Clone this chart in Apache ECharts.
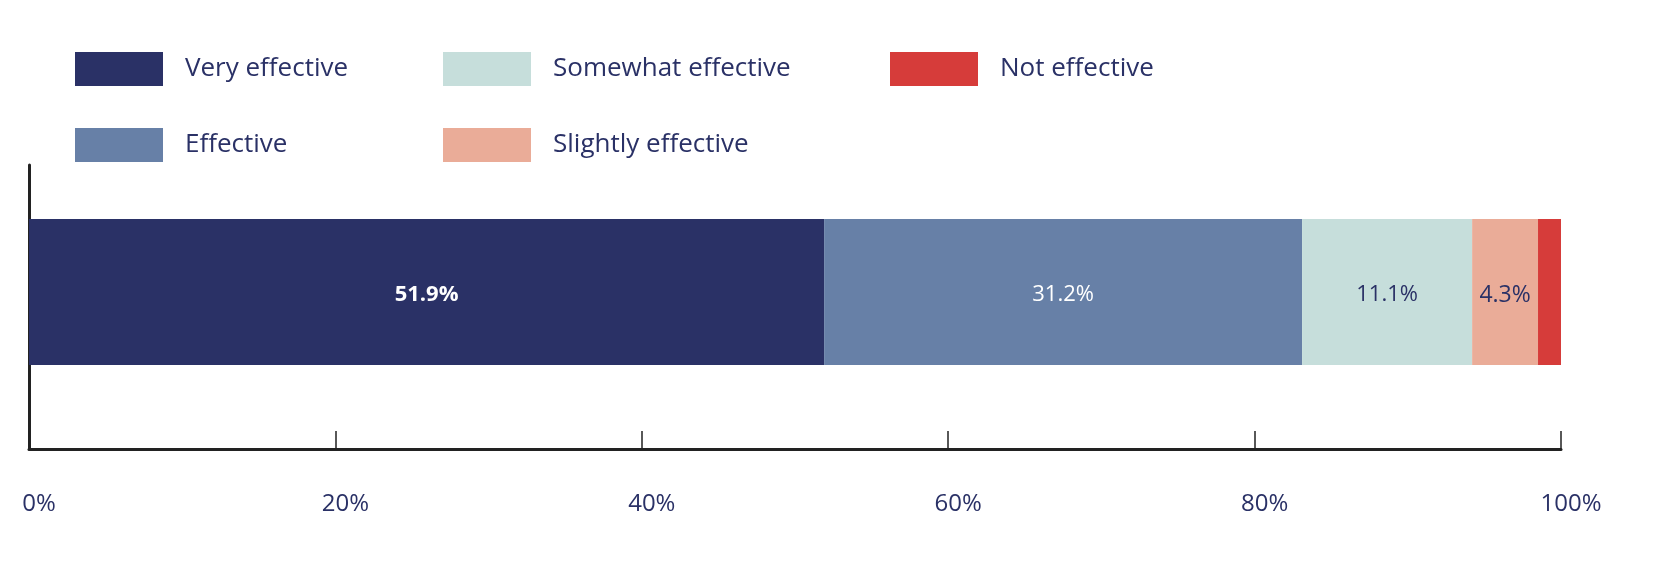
<!DOCTYPE html>
<html lang="en">
<head>
    <meta charset="UTF-8">
    <title>Effectiveness</title>
    <script src="https://cdn.jsdelivr.net/npm/echarts@6/dist/echarts.min.js"></script>
    <style>
        html, body { margin: 0; padding: 0; background: #fff; }
        #chart { width: 1673px; height: 572px; }
    </style>
</head>
<body>
<div id="chart"></div>
<script>
    // data
    var categories = ['All respondents'];
    var seriesNames = ['Very effective', 'Effective', 'Somewhat effective', 'Slightly effective', 'Not effective'];
    var seriesValues = [51.9, 31.2, 11.1, 4.3, 1.5];
    var seriesColors = ['#2a3166', '#6780a7', '#c6dedb', '#eaac98', '#d63c3a'];
    var labelColors = ['#ffffff', '#ffffff', '#2a3166', '#2a3166', '#2a3166'];
    var xTicks = [0, 20, 40, 60, 80, 100];

    var navy = '#2a3166';
    var font = 'Open Sans';

    var series = [];
    for (var i = 0; i < seriesNames.length; i++) {
        series.push({
            name: seriesNames[i],
            type: 'bar',
            stack: 'total',
            xAxisIndex: 0,
            yAxisIndex: 0,
            barWidth: '100%',
            itemStyle: { color: seriesColors[i] },
            label: {
                show: i < 4,
                position: 'inside',
                formatter: '{c}%',
                color: labelColors[i],
                fontFamily: font,
                fontSize: i == 3 ? 23 : 22,
                fontWeight: i == 0 ? 'bold' : 'normal',
                offset: [0, 3]
            },
            data: [seriesValues[i]]
        });
    }

    function legendCol(left, names) {
        return {
            orient: 'vertical',
            left: left,
            top: 47,
            itemWidth: 88,
            itemHeight: 34,
            itemGap: 42,
            icon: 'rect',
            selectedMode: false,
            textStyle: { color: navy, fontFamily: font, fontSize: 26, padding: [0, 0, 0, 17] },
            data: names
        };
    }

    var myChart = echarts.init(document.getElementById('chart'));
    myChart.setOption({
        animation: false,
        legend: [
            legendCol(70, [seriesNames[0], seriesNames[1]]),
            legendCol(438, [seriesNames[2], seriesNames[3]]),
            legendCol(885, [seriesNames[4]])
        ],
        grid: [
            // bar area
            { left: 29, right: 112, top: 219, bottom: 207 },
            // axes frame
            { left: 29, right: 112, top: 165, bottom: 123 }
        ],
        xAxis: [{
            gridIndex: 0,
            type: 'value',
            min: 0,
            max: 100,
            show: false
        }, {
            gridIndex: 1,
            type: 'value',
            min: xTicks[0],
            max: xTicks[xTicks.length - 1],
            interval: 20,
            axisLine: { show: true, lineStyle: { color: '#222', width: 3 } },
            axisTick: { show: true, inside: true, length: 18, lineStyle: { color: '#222', width: 1.5 } },
            splitLine: { show: false },
            axisLabel: {
                margin: 43,
                color: navy,
                fontFamily: font,
                fontSize: 24,
                padding: [0, 0, 0, 20],
                formatter: '{value}%'
            }
        }],
        yAxis: [{
            gridIndex: 0,
            type: 'category',
            data: categories,
            show: false
        }, {
            gridIndex: 1,
            type: 'category',
            data: categories,
            axisLine: { show: true, lineStyle: { color: '#222', width: 3 } },
            axisTick: { show: false },
            axisLabel: { show: false }
        }],
        series: series
    });
</script>
</body>
</html>
